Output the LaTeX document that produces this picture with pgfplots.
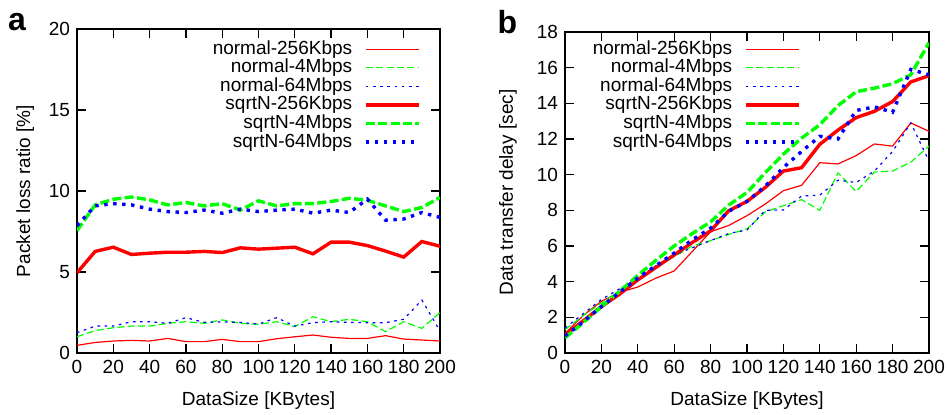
\documentclass[border=0pt]{standalone}
\usepackage{pgfplots}
\usepackage{pgfplotstable}
\pgfplotsset{compat=1.18}
\usepackage{fontspec}
\setmainfont{Liberation Sans}

\pgfplotstableread{
x   n256 n4   n64  s256 s4   s64
0   0.47 1.00 1.25 4.95 7.55 7.86
10  0.65 1.38 1.66 6.27 9.14 9.08
20  0.74 1.56 1.66 6.53 9.49 9.22
30  0.78 1.66 1.93 6.08 9.63 9.14
40  0.74 1.66 1.93 6.16 9.45 8.88
50  0.90 1.83 1.83 6.22 9.14 8.73
60  0.70 1.93 2.18 6.22 9.29 8.67
70  0.70 1.83 1.89 6.27 9.08 8.82
80  0.84 2.04 1.92 6.20 9.22 8.63
90  0.70 1.83 1.89 6.49 8.82 8.88
100 0.70 1.77 1.78 6.41 9.39 8.73
110 0.88 1.93 2.18 6.47 9.08 8.82
120 1.00 1.63 1.66 6.53 9.22 8.88
130 1.11 2.24 1.87 6.12 9.22 8.63
140 0.97 1.93 1.93 6.84 9.35 8.82
150 0.90 2.08 1.89 6.84 9.55 8.67
160 0.90 1.93 1.87 6.63 9.43 9.50
170 1.07 1.32 1.87 6.29 9.08 8.20
180 0.86 1.93 2.08 5.92 8.73 8.27
190 0.80 1.52 3.27 6.88 8.98 8.67
200 0.74 2.49 1.36 6.59 9.60 8.37
}\losstable

\pgfplotstableread{
x   n256  n4    n64   s256  s4    s64
0   1.10  1.30  1.40  1.00  0.85  0.95
10  2.10  2.10  2.20  1.80  1.70  1.75
20  2.90  2.80  3.00  2.60  2.60  2.60
30  3.40  3.50  3.60  3.30  3.45  3.40
40  3.70  4.10  4.20  4.10  4.35  4.20
50  4.20  4.80  4.90  4.80  5.20  4.90
60  4.60  5.40  5.50  5.50  6.00  5.60
70  5.70  6.00  5.90  6.20  6.70  6.35
80  6.80  6.30  6.30  6.85  7.35  7.00
90  7.15  6.65  6.70  7.98  8.30  7.95
100 7.70  6.96  6.90  8.50  9.00  8.50
110 8.35  7.90  8.00  9.28  10.10 9.35
120 9.10  8.26  8.02  10.20 11.15 10.40
130 9.40  8.60  8.80  10.39 12.05 11.30
140 10.67 8.00  8.85  11.70 12.80 12.15
150 10.60 10.10 9.69  12.50 13.87 12.00
160 11.07 9.06  9.56  13.20 14.65 13.60
170 11.72 10.15 10.20 13.55 14.85 13.80
180 11.60 10.20 11.30 14.10 15.10 13.50
190 12.90 10.70 12.90 15.20 15.60 15.90
200 12.43 11.60 10.76 15.55 17.40 15.60
}\delaytable

\pgfplotsset{
  gp/.style={
    scale only axis,
    xmin=0, xmax=200,
    xtick={0,20,...,200},
    tick align=inside,
    xtick pos=both, ytick pos=both,
    major tick length=4.5pt,
    axis line style={line width=0.6pt},
    every tick/.style={black, line width=0.6pt},
    tick label style={font=\fontsize{9.5}{11}\selectfont},
    label style={font=\fontsize{9.5}{11}\selectfont},
    /pgf/number format/assume math mode=true,
    no markers,
    legend plot pos=right,
    legend cell align=right,
    legend image code/.code={\draw[##1] (0pt,0pt) -- (26.5pt,0pt);},
    legend style={draw=none, fill=none, font=\fontsize{9.5}{11}\selectfont,
      column sep=6pt, row sep=0pt, at={(1,1)}, anchor=north east,
      nodes={inner xsep=0pt, inner ysep=0.15pt, text height=7pt, text depth=2pt}},
  },
  n256/.style={red, line width=0.6pt, solid},
  n4/.style={green, line width=0.6pt, dash pattern=on 3.5pt off 1.7pt},
  n64/.style={blue, line width=0.6pt, dash pattern=on 1.3pt off 2.3pt},
  s256/.style={red, line width=1.7pt, solid},
  s4/.style={green, line width=1.7pt, dash pattern=on 4.5pt off 1.7pt},
  s64/.style={blue, line width=1.7pt, dash pattern=on 1.7pt off 2.8pt},
}

\begin{document}
\begin{tikzpicture}
\useasboundingbox (0,0) rectangle (474.5pt,207.5pt);

\begin{axis}[gp,
  at={(38.5pt,31pt)}, anchor=south west,
  width=181.5pt, height=162pt,
  ymin=0, ymax=20, ytick={0,5,...,20},
  xlabel={DataSize [KBytes]},
  ylabel={Packet loss ratio [\%]},
  xlabel style={at={(axis description cs:0.5,-0.148)}, anchor=center},
  ylabel style={at={(axis description cs:-0.143,0.5)}, anchor=center},
  legend style={xshift=-6.5pt, yshift=-3.25pt},
]
\addplot[n256] table[x=x,y=n256] {\losstable};
\addlegendentry{normal-256Kbps}
\addplot[n4] table[x=x,y=n4] {\losstable};
\addlegendentry{normal-4Mbps}
\addplot[n64] table[x=x,y=n64] {\losstable};
\addlegendentry{normal-64Mbps}
\addplot[s256] table[x=x,y=s256] {\losstable};
\addlegendentry{sqrtN-256Kbps}
\addplot[s4] table[x=x,y=s4] {\losstable};
\addlegendentry{sqrtN-4Mbps}
\addplot[s64] table[x=x,y=s64] {\losstable};
\addlegendentry{sqrtN-64Mbps}
\end{axis}

\begin{axis}[gp,
  at={(282.5pt,31pt)}, anchor=south west,
  width=182pt, height=160.5pt,
  ymin=0, ymax=18, ytick={0,2,...,18},
  xlabel={DataSize [KBytes]},
  ylabel={Data transfer delay [sec]},
  xlabel style={at={(axis description cs:0.5,-0.1495)}, anchor=center},
  ylabel style={at={(axis description cs:-0.157,0.5)}, anchor=center},
  legend style={xshift=-61pt, yshift=-1.75pt},
]
\addplot[n256] table[x=x,y=n256] {\delaytable};
\addlegendentry{normal-256Kbps}
\addplot[n4] table[x=x,y=n4] {\delaytable};
\addlegendentry{normal-4Mbps}
\addplot[n64] table[x=x,y=n64] {\delaytable};
\addlegendentry{normal-64Mbps}
\addplot[s256] table[x=x,y=s256] {\delaytable};
\addlegendentry{sqrtN-256Kbps}
\addplot[s4] table[x=x,y=s4] {\delaytable};
\addlegendentry{sqrtN-4Mbps}
\addplot[s64] table[x=x,y=s64] {\delaytable};
\addlegendentry{sqrtN-64Mbps}
\end{axis}

\node[font=\fontsize{16}{18}\selectfont\bfseries] at (8.5pt,196.25pt) {a};
\node[font=\fontsize{16}{18}\selectfont\bfseries] at (253.75pt,196.25pt) {b};
\end{tikzpicture}
\end{document}
